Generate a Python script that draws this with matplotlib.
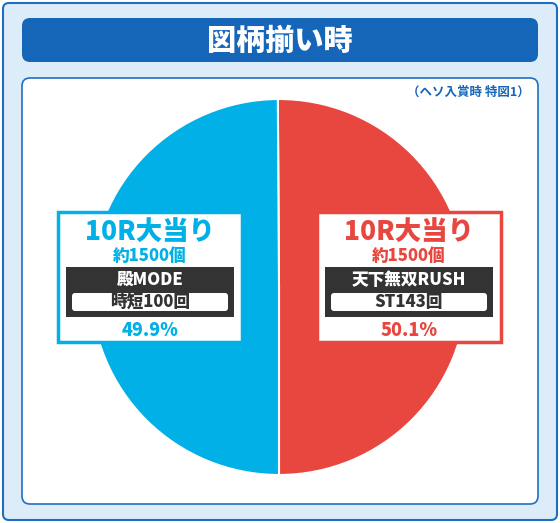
import matplotlib
matplotlib.use("Agg")
import matplotlib.pyplot as plt
from matplotlib.patches import FancyBboxPatch, Rectangle

plt.rcParams['font.family'] = ['Noto Sans CJK JP', 'DejaVu Sans']

title = "図柄揃い時"
note = "（ヘソ入賞時 特図1）"
labels = ["天下無双RUSH", "殿MODE"]
values = [50.1, 49.9]
colors = ["#e8473f", "#00b0e6"]
heads = ["10R大当り", "10R大当り"]
subs = ["約1500個", "約1500個"]
details = ["ST143回", "時短100回"]

fig = plt.figure(figsize=(5.6, 5.23), dpi=100)
ax = fig.add_axes([0, 0, 1, 1])

ax.add_patch(FancyBboxPatch((3, 3), 554, 517, boxstyle="round,pad=0,rounding_size=6",
                            fc="#dcedf9", ec="#1f6fc0", lw=1.5))
ax.add_patch(FancyBboxPatch((22, 18), 516, 44, boxstyle="round,pad=0,rounding_size=8",
                            fc="#1565b8", ec="none"))
ax.text(280, 41, title, color="white", fontsize=21, fontweight="black", ha="center", va="center")
ax.add_patch(FancyBboxPatch((22, 78), 516, 426, boxstyle="round,pad=0,rounding_size=8",
                            fc="white", ec="#1f6fc0", lw=1.2))
ax.text(530, 92, note, color="#1565b8", fontsize=9, fontweight="bold", ha="right", va="center")

ax.pie(values, colors=colors, startangle=90, counterclock=False, center=(279, 287),
       radius=188, wedgeprops=dict(ec="white", lw=1.5), frame=True)
ax.set_xlim(0, 560); ax.set_ylim(523, 0); ax.axis('off')

for i, cx in enumerate([409, 150]):
    c = colors[i]
    x0 = cx - 92
    ax.add_patch(Rectangle((x0, 212), 184, 130, fc="white", ec=c, lw=2.5))
    ax.text(cx, 233, heads[i], color=c, fontsize=19, fontweight="black", ha="center", va="center")
    ax.text(cx, 256, subs[i], color=c, fontsize=12, fontweight="black", ha="center", va="center")
    ax.add_patch(Rectangle((x0 + 8, 267), 168, 50, fc="#333333", ec="none"))
    ax.text(cx, 280, labels[i], color="white", fontsize=12, fontweight="black", ha="center", va="center")
    ax.add_patch(FancyBboxPatch((x0 + 14, 293), 156, 18, boxstyle="round,pad=0,rounding_size=3",
                                fc="white", ec="none"))
    ax.text(cx, 302, details[i], color="#333333", fontsize=12, fontweight="black", ha="center", va="center")
    ax.text(cx, 330, f"{values[i]}%", color=c, fontsize=13, fontweight="black", ha="center", va="center")

fig.savefig("out.png", dpi=100)
